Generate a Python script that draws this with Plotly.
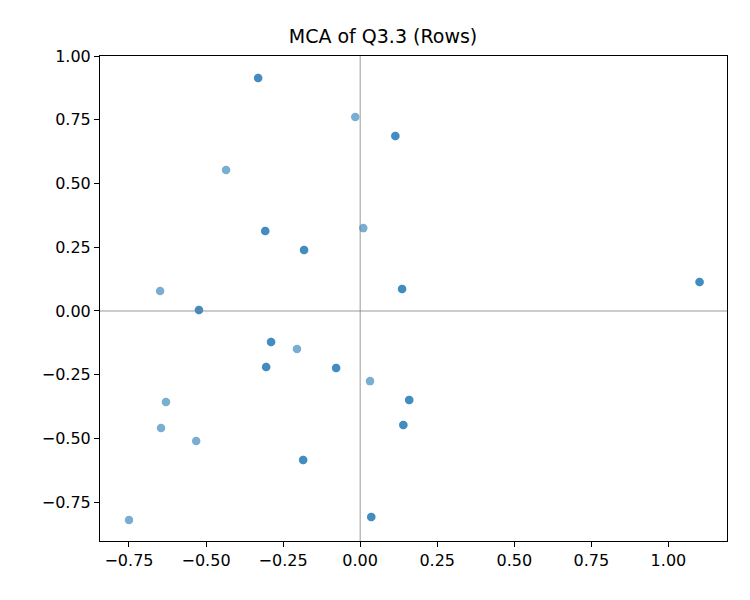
import plotly.graph_objects as go

xs = [-0.331,-0.016,0.114,-0.435,-0.308,-0.182,0.010,1.101,-0.649,-0.523,0.136,-0.289,-0.205,-0.305,-0.078,0.032,-0.630,0.159,-0.646,-0.532,0.140,-0.185,0.036,-0.75]
ys = [0.914,0.761,0.686,0.553,0.314,0.239,0.325,0.114,0.078,0.004,0.086,-0.122,-0.149,-0.220,-0.224,-0.275,-0.357,-0.349,-0.459,-0.510,-0.447,-0.584,-0.808,-0.82]
counts = [2,1,2,1,2,2,1,2,1,2,2,2,1,2,2,1,1,2,1,1,2,2,2,1]

px, py = [], []
for x, y, c in zip(xs, ys, counts):
    px += [x]*c; py += [y]*c

fig = go.Figure(go.Scatter(x=px, y=py, mode="markers",
    marker=dict(size=8.5, color="#1f77b4", opacity=0.6, line=dict(width=0))))
fig.add_hline(y=0, line=dict(color="#808080", width=0.8))
fig.add_vline(x=0, line=dict(color="#808080", width=0.8))
ax = dict(showgrid=False, zeroline=False, showline=True, linecolor="black", linewidth=1,
          mirror=True, ticks="outside", ticklen=5, tickcolor="black", tickformat=".2f",
          tickfont=dict(size=16, color="black"))
fig.update_layout(width=750, height=600, plot_bgcolor="white", paper_bgcolor="white",
    font=dict(family="DejaVu Sans"),
    margin=dict(l=92, r=31, t=48, b=67),
    title=dict(text="MCA of Q3.3 (Rows)", x=0.5, xanchor="center", y=0.953, yanchor="middle",
               font=dict(size=19, color="black")),
    xaxis=dict(range=[-0.844, 1.19], tickvals=[-0.75,-0.5,-0.25,0,0.25,0.5,0.75,1.0], **ax),
    yaxis=dict(range=[-0.902, 1.0], tickvals=[-0.75,-0.5,-0.25,0,0.25,0.5,0.75,1.0], **ax),
    showlegend=False)
fig.write_html("out.html")
